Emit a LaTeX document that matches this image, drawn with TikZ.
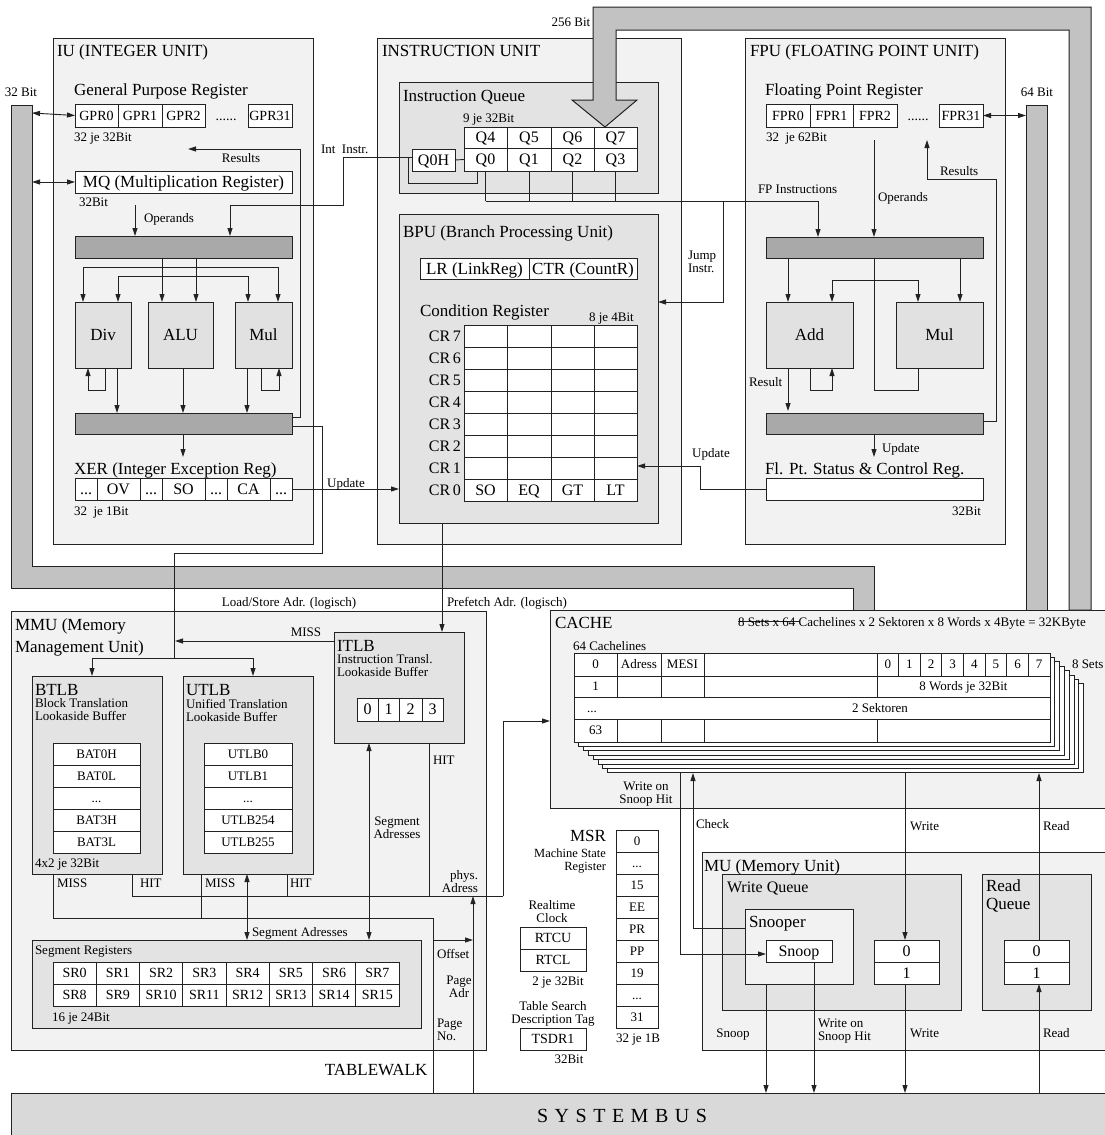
\documentclass[tikz,border=0pt]{standalone}
\usepackage{fontspec}
\setmainfont{Liberation Serif}
\usetikzlibrary{arrows.meta}
\definecolor{cOuter}{HTML}{F2F2F2}
\definecolor{cInner}{HTML}{E3E3E3}
\definecolor{cFU}{HTML}{E1E1E1}
\definecolor{cBar}{HTML}{A9A9A9}
\definecolor{cBus}{HTML}{C2C2C2}
\definecolor{cSys}{HTML}{D9D9D9}
\definecolor{cLine}{HTML}{222222}
\newcommand\fT{\fontsize{17}{19}\selectfont}
\newcommand\fTT{\fontsize{17}{22}\selectfont}
\newcommand\fTr{\fontsize{17}{18}\selectfont}
\newcommand\fQ{\fontsize{16}{18}\selectfont}
\newcommand\fR{\fontsize{14}{16}\selectfont}
\newcommand\fS{\fontsize{13}{13}\selectfont}
\newcommand\fSs{\fontsize{12.5}{12.5}\selectfont}
\newcommand\fSys{\fontsize{20}{22}\selectfont}
\newcommand\ddd{...}
\newcommand\lsp{\hspace{6.5pt}}
\newcounter{lblc}
\newcommand\bx[7]{\node[#6,anchor=north west,minimum width={(#4)-(#2)},minimum height={(#5)-(#3)}] (#1) at (#2,#3) {#7};}
\newcommand\lbl[3][]{\stepcounter{lblc}\node[lab,#1] (lab\thelblc) at (#2) {#3};}
\begin{document}
\begin{tikzpicture}[x=1pt,y=-1pt,
 bxs/.style={draw=cLine,line width=1pt,inner sep=0pt,outer sep=0pt},
 obox/.style={bxs,fill=cOuter},
 ibox/.style={bxs,fill=cInner},
 fubox/.style={bxs,fill=cFU,font=\fT,text height=11.3pt,text depth=0pt},
 barbox/.style={bxs,fill=cBar},
 cellq/.style={bxs,fill=white,font=\fQ,text height=10.6pt,text depth=0pt},
 cellr/.style={bxs,fill=white,font=\fR,text height=9.3pt,text depth=0pt},
 cellc/.style={bxs,fill=white,font=\fS,text height=8.6pt,text depth=0pt},
 busfill/.style={fill=cBus,draw=cLine,line width=1pt},
 lab/.style={inner sep=0pt,outer sep=0pt,font=\fS,text height=8.6pt,text depth=0pt},
 labT/.style={font=\fT,text height=11.3pt},
 labQ/.style={font=\fQ,text height=10.6pt},
 lab2/.style={text height=,text depth=},
 conn/.style={draw=cLine,line width=0.9pt},
 arr/.style={conn,-{Triangle[length=8pt,width=5pt]}},
 darr/.style={conn,{Triangle[length=8pt,width=5pt]}-{Triangle[length=8pt,width=5pt]}}]
\useasboundingbox (0,0) rectangle (1104,1135);
\fill[white] (0,0) rectangle (1104,1135);

% ---------- outer boxes
\bx{iu}{53}{38}{313}{544}{obox}{}
\bx{instr}{377}{38}{681}{544}{obox}{}
\bx{fpu}{745}{38}{1005}{544}{obox}{}
\bx{mmu}{11}{611}{486}{1050}{obox}{}
\bx{cache}{550}{610}{1106}{808}{obox}{}
\bx{mu}{702}{852}{1106}{1050}{obox}{}
\bx{sysbus}{11}{1093}{1106}{1137}{bxs,fill=cSys}{}

% ---------- IU
\foreach \nm/\xa/\xb/\t in {gpr0/75/118/GPR0,gpr1/118/162/GPR1,gpr2/162/205/GPR2,gpr31/248/292/GPR31}
  {\bx{\nm}{\xa}{104}{\xb}{127}{cellr}{\t}}
\bx{mq}{75}{171}{292}{193}{cellq,font=\fT,text height=11.3pt}{MQ (Multiplication Register)}
\bx{opbar}{75}{236}{292}{258}{barbox}{}
\bx{div}{75}{302}{131}{368}{fubox}{Div}
\bx{alu}{148}{302}{213}{368}{fubox}{ALU}
\bx{imul}{235}{302}{292}{368}{fubox}{Mul}
\bx{rbar}{75}{413}{292}{434}{barbox}{}
\foreach \xa/\xb/\t [count=\i] in {75/97/\ddd,97/140/OV,140/162/\ddd,162/205/SO,205/227/\ddd,227/270/CA,270/292/\ddd}
  {\bx{xer\i}{\xa}{478}{\xb}{500}{cellq}{\t}}

% ---------- Instruction unit
\bx{iq}{399}{82}{658}{193}{ibox}{}
\foreach \nm/\xa/\xb/\t in {q4/464/507/Q4,q5/507/551/Q5,q6/551/594/Q6,q7/594/637/Q7}
  {\bx{\nm}{\xa}{127}{\xb}{148}{cellq}{\t}}
\foreach \nm/\xa/\xb/\t in {q0/464/507/Q0,q1/507/551/Q1,q2/551/594/Q2,q3/594/637/Q3}
  {\bx{\nm}{\xa}{148}{\xb}{171}{cellq}{\t}}
\bx{q0h}{412}{149}{455}{171}{cellq}{Q0H}
\bx{bpu}{399}{214}{658}{523}{ibox}{}
\bx{lr}{420}{258}{529}{279}{cellq,font=\fT,text height=11.3pt}{LR (LinkReg)}
\bx{ctr}{529}{258}{637}{279}{cellq,font=\fT,text height=11.3pt}{CTR (CountR)}
\foreach \r [count=\i from 0] in {7,6,5,4,3,2,1}{
  \pgfmathsetmacro\ya{325+22*\i}\pgfmathsetmacro\yb{\ya+22}
  \foreach \c/\xa/\xb in {1/464/507,2/507/551,3/551/594,4/594/637}
    {\bx{cr\r c\c}{\xa}{\ya}{\xb}{\yb}{cellq}{}}
  \node[lab,labQ,anchor=east] (crl\r) at (461,{(\ya+\yb)/2}) {CR\,\r};
}
\foreach \c/\xa/\xb/\t in {1/464/507/SO,2/507/551/EQ,3/551/594/GT,4/594/637/LT}
  {\bx{cr0c\c}{\xa}{479}{\xb}{501}{cellq}{\t}}
\node[lab,labQ,anchor=east] (crl0) at (461,490) {CR\,0};

% ---------- FPU
\foreach \nm/\xa/\xb/\t in {fpr0/766/810/FPR0,fpr1/810/853/FPR1,fpr2/853/897/FPR2,fpr31/939/983/FPR31}
  {\bx{\nm}{\xa}{104}{\xb}{127}{cellr}{\t}}
\bx{fbar1}{766}{237}{983}{258}{barbox}{}
\bx{fadd}{766}{302}{853}{368}{fubox}{Add}
\bx{fmul}{896}{302}{983}{368}{fubox}{Mul}
\bx{fbar2}{766}{413}{983}{434}{barbox}{}
\bx{fpscr}{766}{478}{983}{500}{cellq}{}

% ---------- MMU
\bx{btlb}{32}{676}{162}{874}{ibox}{}
\bx{utlb}{183}{676}{313}{874}{ibox}{}
\bx{itlb}{334}{632}{464}{743}{ibox}{}
\foreach \t [count=\i from 0] in {BAT0H,BAT0L,\ddd,BAT3H,BAT3L}{
  \pgfmathsetmacro\ya{743+22*\i}\pgfmathsetmacro\yb{\ya+22}
  \bx{bat\i}{53}{\ya}{140}{\yb}{cellc}{\t}}
\foreach \t [count=\i from 0] in {UTLB0,UTLB1,\ddd,UTLB254,UTLB255}{
  \pgfmathsetmacro\ya{743+22*\i}\pgfmathsetmacro\yb{\ya+22}
  \bx{ut\i}{204}{\ya}{292}{\yb}{cellc}{\t}}
\foreach \xa/\xb/\t in {357/378/0,378/399/1,399/422/2,422/443/3}
  {\bx{it\t}{\xa}{698}{\xb}{721}{cellq}{\t}}
\bx{segreg}{32}{940}{421}{1028}{ibox}{}
\foreach \k in {0,...,7}{
  \pgfmathsetmacro\xa{53+43.25*\k}\pgfmathsetmacro\xb{\xa+43.25}
  \pgfmathtruncatemacro\kk{\k+8}
  \bx{sr\k}{\xa}{962}{\xb}{984}{cellr}{SR\k}
  \bx{sr\kk}{\xa}{984}{\xb}{1006}{cellr}{SR\kk}}

% ---------- MSR, RTC, TSDR
\foreach \t [count=\i from 0] in {0,\ddd,15,EE,PR,PP,19,\ddd,31}{
  \pgfmathsetmacro\ya{830+22*\i}\pgfmathsetmacro\yb{\ya+22}
  \bx{msr\i}{616}{\ya}{658}{\yb}{cellc}{\t}}
\bx{rtcu}{520}{927}{586}{949}{cellr}{RTCU}
\bx{rtcl}{520}{949}{586}{971}{cellr}{RTCL}
\bx{tsdr}{520}{1028}{586}{1050}{cellr}{TSDR1}

% ---------- CACHE
\foreach \k in {7,6,...,1}
  {\filldraw[fill=white,draw=cLine,line width=0.9pt] ({574+4.8*\k},{653+4.4*\k}) rectangle ({1050+4.8*\k},{742+4.4*\k});}
\bx{ca0a}{574}{653}{617}{676}{cellc}{0}
\bx{ca0b}{617}{653}{661}{676}{cellc}{Adress}
\bx{ca0c}{661}{653}{704}{676}{cellc}{MESI}
\bx{ca0d}{704}{653}{877}{676}{cellc}{}
\foreach \k in {0,...,7}{
  \pgfmathsetmacro\xa{877+21.625*\k}\pgfmathsetmacro\xb{\xa+21.625}
  \bx{cw\k}{\xa}{653}{\xb}{676}{cellc}{\k}}
\bx{ca1a}{574}{676}{617}{697}{cellc}{1}
\bx{ca1b}{617}{676}{661}{697}{cellc}{}
\bx{ca1c}{661}{676}{704}{697}{cellc}{}
\bx{ca1d}{704}{676}{877}{697}{cellc}{}
\bx{ca1e}{877}{676}{1050}{697}{cellc}{8 Words je 32Bit}
\bx{ca2}{574}{697}{1050}{719}{cellc}{}
\bx{ca3a}{574}{719}{617}{742}{cellc}{63}
\bx{ca3b}{617}{719}{661}{742}{cellc}{}
\bx{ca3c}{661}{719}{704}{742}{cellc}{}
\bx{ca3d}{704}{719}{877}{742}{cellc}{}
\bx{ca3e}{877}{719}{1050}{742}{cellc}{}

% ---------- MU
\bx{wq}{722}{874}{961}{1010}{ibox}{}
\bx{snooper}{745}{909}{853}{984}{obox}{}
\bx{snoop}{766}{940}{832}{962}{cellq,font=\fQ}{Snoop}
\bx{wq0}{874}{940}{939}{962}{cellq}{0}
\bx{wq1}{874}{962}{939}{984}{cellq}{1}
\bx{rq}{982}{874}{1091}{1010}{ibox}{}
\bx{rq0}{1004}{940}{1069}{962}{cellq}{0}
\bx{rq1}{1004}{962}{1069}{984}{cellq}{1}

% ---------- buses
\filldraw[busfill] (11,105) -- (32,105) -- (32,566) -- (874,566) -- (874,610) -- (853,610) -- (853,588) -- (11,588) -- cycle;
\filldraw[busfill] (1026,105) rectangle (1047,610);
\filldraw[busfill] (593,100) -- (593,7) -- (1091,7) -- (1091,610) -- (1069,610) -- (1069,30) -- (616,30) -- (616,100) -- (637,100) -- (605,127) -- (572,100) -- cycle;

% ---------- IU connectors
\draw[darr] (32,113) -- (gpr0.west);
\draw[darr] (32,182) -- (mq.west);
\draw[arr] (292,417) -- (300,417) -- (300,149) -- (188,149);
\draw[arr] (135,205) -- (135,236);
\draw[arr] (412,157) -- (343,157) -- (343,205) -- (230,205) -- (230,236);
\draw[arr] (162,258) -- (162,302);
\draw[arr] (196,258) -- (196,302);
\draw[conn] (83,267) -- (278,267);
\draw[conn] (118,276) -- (248,276);
\draw[arr] (83,267) -- (83,302);
\draw[arr] (278,267) -- (278,302);
\draw[arr] (118,276) -- (118,302);
\draw[arr] (248,276) -- (248,302);
\draw[arr] (105,368) -- (105,390) -- (88,390) -- (88,368);
\draw[arr] (261,368) -- (261,390) -- (279,390) -- (279,368);
\draw[arr] (117,368) -- (117,413);
\draw[arr] (183,368) -- (183,413);
\draw[arr] (247,368) -- (247,413);
\draw[arr] (183,434) -- (183,457);
\draw[arr] (xer7.east) -- (bpu.west |- xer7.east);
\draw[conn] (292,426) -- (322,426) -- (322,553) -- (174,553) -- (174,658);
\draw[conn] (92,658) -- (253,658);
\draw[arr] (92,658) -- (btlb.north -| 92,0);
\draw[arr] (253,658) -- (253,676);

% ---------- Instruction unit connectors
\draw[conn] (q0h.east) -- (q0.west);
\draw[conn] (477,171) -- (477,183) -- (408,183) -- (408,157);
\draw[conn] (q0.south) -- (485.5,201);
\draw[conn] (q1.south) -- (529,201);
\draw[conn] (q2.south) -- (572.5,201);
\draw[conn] (q3.south) -- (615.5,201);
\draw[arr] (485.5,201) -- (818,201) -- (818,237);
\draw[arr] (723,201) -- (723,302) -- (658,302);
\draw[arr] (fpscr.west) -- (700,489) -- (700,466) -- (637,466);
\draw[arr] (442,523) -- (442,632);

% ---------- FPU connectors
\draw[darr] (fpr31.east) -- (1026,115.5);
\draw[arr] (874,140) -- (874,237);
\draw[arr] (983,421) -- (996,421) -- (996,179) -- (927,179) -- (927,140);
\draw[arr] (788,258) -- (788,302);
\draw[arr] (960,258) -- (960,302);
\draw[conn] (874,258) -- (874,280);
\draw[conn] (832,280) -- (918,280);
\draw[arr] (832,280) -- (832,302);
\draw[arr] (918,280) -- (918,302);
\draw[arr] (810,368) -- (810,390) -- (832,390) -- (832,368);
\draw[conn] (918,368) -- (918,390) -- (874,390) -- (874,280);
\draw[arr] (788,368) -- (788,411);
\draw[arr] (874,434) -- (874,457);

% ---------- MMU connectors
\draw[arr] (334,641) -- (175,641);
\draw[darr] (369,743) -- (369,940);
\draw[conn] (429,743) -- (429,896);
\draw[conn] (53,874) -- (53,918) -- (433,918) -- (433,1093);
\draw[conn] (201,874) -- (201,918);
\draw[conn] (132,874) -- (132,896) -- (503,896);
\draw[conn] (287,874) -- (287,896);
\draw[arr] (503,896) -- (503,721) -- (550,721);
\draw[darr] (247,874) -- (247,940);
\draw[arr] (433,940) -- (473,940);
\draw[arr] (473,1093) -- (473,896);

% ---------- cache / MU connectors
\draw[arr] (680,773) -- (680,954) -- (snoop.west |- 0,954);
\draw[arr] (745,928) -- (693,928) -- (693,773);
\draw[arr] (905,773) -- (905,940);
\draw[arr] (1039,940) -- (1039,773);
\draw[arr] (766,984) -- (766,1093);
\draw[arr] (814,962) -- (814,1093);
\draw[arr] (905,984) -- (905,1093);
\draw[arr] (1039,1093) -- (1039,984);
\draw[conn,line width=0.6pt] (738,621) -- (799,621);

% ---------- labels IU
\lbl[labT,anchor=west]{57,51}{IU (INTEGER UNIT)}
\lbl[labT,anchor=west]{74,90}{General Purpose Register}
\lbl[font=\fR]{226,116}{......}
\lbl[anchor=west]{74,137}{32 je 32Bit}
\lbl{241,158}{Results}
\lbl[anchor=west]{79,202}{32Bit}
\lbl[anchor=west]{144,218}{Operands}
\lbl[anchor=west]{321,149}{Int\ \ Instr.}
\lbl[labT,anchor=west]{74,469}{XER (Integer Exception Reg)}
\lbl[anchor=west]{74,511}{32\ \ je 1Bit}
\lbl{346,483}{Update}
\lbl{21,92}{32 Bit}
% ---------- labels instruction unit
\lbl[labT,anchor=west]{382,51}{INSTRUCTION UNIT}
\lbl[labT,anchor=west]{403,96}{Instruction Queue}
\lbl[anchor=west]{463,118}{9 je 32Bit}
\lbl[labT,anchor=west]{403,232}{BPU (Branch Processing Unit)}
\lbl[labT,anchor=west]{420,311}{Condition Register}
\lbl[anchor=west]{589,317}{8 je 4Bit}
\lbl{571,22}{256 Bit}
\lbl[lab2,align=left,anchor=west]{688,262}{Jump\\Instr.}
\lbl[anchor=west]{758,189}{FP Instructions}
\lbl{711,453}{Update}
\lbl[anchor=west]{447,602}{Prefetch Adr. (logisch)}
% ---------- labels FPU
\lbl[labT,anchor=west]{750,51}{FPU (FLOATING POINT UNIT)}
\lbl[labT,anchor=west]{765,90}{Floating Point Register}
\lbl[font=\fR]{918,116}{......}
\lbl[anchor=west]{766,137}{32\ \ je 62Bit}
\lbl[anchor=west]{878,197}{Operands}
\lbl[anchor=west]{940,171}{Results}
\lbl[anchor=west]{749,382}{Result}
\lbl[anchor=west]{882,448}{Update}
\lbl[labT,anchor=west]{765,469}{Fl. Pt. Status \& Control Reg.}
\lbl[anchor=east]{981,511}{32Bit}
\lbl{1037,92}{64 Bit}
% ---------- labels MMU
\lbl[lab2,font=\fTT,align=left,anchor=west]{15,637}{MMU (Memory\\Management Unit)}
\lbl{289,602}{Load/Store Adr. (logisch)}
\lbl{306,632}{MISS}
\lbl[labT,anchor=west]{35,690}{BTLB}
\lbl[lab2,align=left,anchor=west]{35,710}{Block Translation\\Lookaside Buffer}
\lbl[anchor=west]{35,863}{4x2 je 32Bit}
\lbl[labT,anchor=west]{186,690}{UTLB}
\lbl[lab2,align=left,anchor=west]{186,710}{Unified Translation\\Lookaside Buffer}
\lbl[labT,anchor=west]{337,646}{ITLB}
\lbl[lab2,align=left,anchor=west]{337,666}{Instruction Transl.\\Lookaside Buffer}
\lbl[lab2,align=center]{397,828}{Segment\\Adresses}
\lbl[anchor=west]{433,760}{HIT}
\lbl[anchor=west]{57,883}{MISS}
\lbl[anchor=west]{140,883}{HIT}
\lbl[anchor=west]{205,883}{MISS}
\lbl[anchor=west]{290,883}{HIT}
\lbl[anchor=west]{252,932}{Segment Adresses}
\lbl[anchor=west]{35,950}{Segment Registers}
\lbl[anchor=west]{52,1017}{16 je 24Bit}
\lbl[lab2,align=right,anchor=east]{478,882}{phys.\\Adress}
\lbl[anchor=west]{437,954}{Offset}
\lbl[lab2,align=center]{459,987}{Page\\Adr}
\lbl[lab2,align=left,anchor=west]{437,1030}{Page\\No.}
\lbl[labT]{376,1070}{TABLEWALK}
% ---------- labels middle
\lbl[labT,anchor=east]{606,836}{MSR}
\lbl[lab2,font=\fSs,align=right,anchor=east]{606,861}{Machine State\\Register}
\lbl[anchor=west]{616,1038}{32 je 1B}
\lbl[lab2,align=center]{552,912}{Realtime\\Clock}
\lbl{558,981}{2 je 32Bit}
\lbl[lab2,align=center]{553,1014}{Table Search\\Description Tag}
\lbl{569,1059}{32Bit}
% ---------- labels cache
\lbl[labT,anchor=west]{555,623}{CACHE}
\lbl[anchor=west]{738,622}{8 Sets x 64 Cachelines x 2 Sektoren x 8 Words x 4Byte = 32KByte}
\lbl[anchor=west]{573,646}{64 Cachelines}
\lbl[anchor=west]{1072,664}{8 Sets}
\lbl{592,708}{\ddd}
\lbl{880,708}{2 Sektoren}
\lbl[lab2,align=center]{646,794}{Write on\\Snoop Hit}
\lbl[anchor=west]{696,824}{Check}
\lbl[anchor=west]{910,826}{Write}
\lbl[anchor=west]{1043,826}{Read}
% ---------- labels MU
\lbl[labT,anchor=west]{704,866}{MU (Memory Unit)}
\lbl[labQ,anchor=west]{727,887}{Write Queue}
\lbl[labT,anchor=west]{749,922}{Snooper}
\lbl[lab2,font=\fTr,align=left,anchor=west]{986,896}{Read\\Queue}
\lbl{733,1033}{Snoop}
\lbl[lab2,align=left,anchor=west]{818,1031}{Write on\\Snoop Hit}
\lbl[anchor=west]{910,1033}{Write}
\lbl[anchor=west]{1043,1033}{Read}
\lbl[font=\fSys,text height=13pt]{622,1116}{S\lsp Y\lsp S\lsp T\lsp E\lsp M\lsp B\lsp U\lsp S}
\end{tikzpicture}
\end{document}
